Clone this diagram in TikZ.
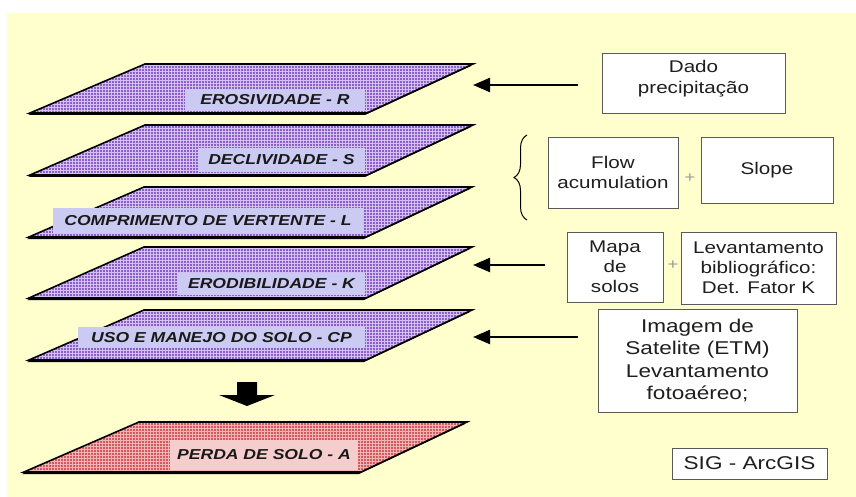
\documentclass[tikz,border=0pt]{standalone}
\usepackage{fontspec}
\setmainfont{Liberation Sans}
\newfontfamily\af[FakeStretch=1.22]{Liberation Sans}
\usetikzlibrary{patterns,arrows.meta,decorations.pathreplacing}
\definecolor{bgy}{RGB}{255,255,206}
\definecolor{purp}{RGB}{140,95,200}
\definecolor{purpl}{RGB}{212,192,244}
\definecolor{lab}{RGB}{202,202,242}
\definecolor{redf}{RGB}{210,90,95}
\definecolor{redl}{RGB}{242,180,180}
\definecolor{labr}{RGB}{246,205,205}
\definecolor{boxline}{RGB}{90,90,90}
\newcommand\ulayer[5]{% top y, bottom y, fill, pattern colour, xshift
 \begin{scope}[xshift=#5]
 \fill[black] (28,#2+2) -- (365,#2+2) -- (471,#1+2) -- (143,#1+2) -- cycle;
 \fill[#3] (30,#2) -- (367,#2) -- (473,#1) -- (145,#1) -- cycle;
 \fill[pattern=grid, pattern color=#4] (30,#2) -- (367,#2) -- (473,#1) -- (145,#1) -- cycle;
 \draw[black, line width=1.6, line join=miter] (30,#2) -- (367,#2) -- (473,#1) -- (145,#1) -- cycle;
 \end{scope}}
\begin{document}
\begin{tikzpicture}[x=1pt,y=-1pt,
  lbl/.style={fill=lab, inner sep=0pt, text=black!90,
    font=\af\bfseries\itshape\fontsize{14.4}{17}\selectfont},
  rbox/.style={draw=boxline, fill=white, line width=0.9pt, inner sep=0pt, align=center,
    text=black!88, font=\af\fontsize{16.9}{20.5}\selectfont},
  btext/.style={inner sep=0pt, align=center, text=black!88},
  harrow/.style={line width=2.2pt, -{Triangle[length=17pt,width=14pt]}},
  plus/.style={text=black!40, inner sep=0pt, font=\af\fontsize{15}{15}\selectfont}]
\useasboundingbox (0,0) rectangle (856,497);
\fill[white] (0,0) rectangle (856,497);
\fill[bgy] (7,13) rectangle (856,497);

% layers
\ulayer{64}{113}{purp}{purpl}{0}
\ulayer{125}{175}{purp}{purpl}{0}
\ulayer{187}{237}{purp}{purpl}{-1}
\ulayer{247}{298}{purp}{purpl}{-1}
\ulayer{310}{360}{purp}{purpl}{-1}
\ulayer{422}{472}{redf}{redl}{-6}

\node[lbl, minimum width=180, minimum height=21] (ero) at (275,99.5) {EROSIVIDADE - R};
\node[lbl, minimum width=167, minimum height=24] (dec) at (281.5,160) {DECLIVIDADE - S};
\node[lbl, minimum width=310, minimum height=25] (com) at (208,220.5) {COMPRIMENTO DE VERTENTE - L};
\node[lbl, minimum width=187, minimum height=22] (erod) at (271.5,284) {ERODIBILIDADE - K};
\node[lbl, minimum width=287, minimum height=21] (uso) at (221.5,337.5) {USO E MANEJO DO SOLO - CP};
\node[lbl, fill=labr, minimum width=188, minimum height=30] (perda) at (264,455) {PERDA DE SOLO - A};

% big down arrow
\fill[black] (237,382) -- (257,382) -- (257,395) -- (275,395) -- (247,406) -- (219,395) -- (237,395) -- cycle;

% right boxes
\node[rbox, minimum width=183, minimum height=60] (dado) at (693.5,83) {};
\node[btext, font=\af\fontsize{16.9}{21}\selectfont] (dadoT) at (693.5,78.5) {Dado\\precipitação};
\node[rbox, minimum width=130, minimum height=71] (flow) at (613,172.5) {Flow\\acumulation};
\node[rbox, minimum width=132, minimum height=66] (slope) at (767,170) {Slope};
\node[plus] (plus1) at (690,178) {+};
\node[rbox, minimum width=96, minimum height=70, font=\af\fontsize{16.9}{20}\selectfont] (mapa) at (615,267) {Mapa\\de\\solos};
\node[rbox, minimum width=155, minimum height=72, font=\af\fontsize{16.9}{20}\selectfont] (lev) at (758.5,268) {Levantamento\\bibliográfico:\\Det. Fator K};
\node[plus] (plus2) at (673,265) {+};
\node[rbox, minimum width=199, minimum height=103, font=\af\fontsize{18.5}{22.6}\selectfont] (img) at (697.5,360.5) {Imagem de\\Satelite (ETM)\\Levantamento\\fotoaéreo;};
\node[rbox, minimum width=155, minimum height=31, font=\af\fontsize{18.5}{22}\selectfont] (sig) at (749.5,463.5) {SIG - ArcGIS};

% brace
\coordinate (bb) at (527,220);
\coordinate (bt) at (527,135);
\draw[line width=1pt, decorate, decoration={brace, amplitude=13pt}] (bb) -- (bt);

% arrows
\coordinate (t1) at (473,85);
\coordinate (t2) at (473,265);
\coordinate (t3) at (473,337);
\draw[harrow, shorten <=24pt] (dado.west |- t1) -- (t1);
\draw[harrow, shorten <=22pt] (mapa.west |- t2) -- (t2);
\draw[harrow, shorten <=20pt] (img.west |- t3) -- (t3);
\end{tikzpicture}
\end{document}
